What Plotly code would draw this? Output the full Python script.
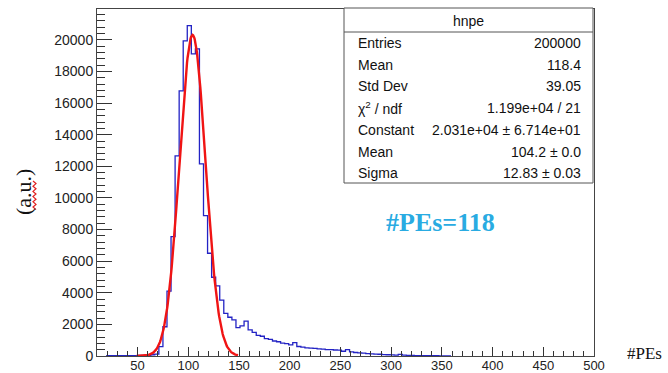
import plotly.graph_objects as go
import numpy as np

# ---------------- data ----------------
bin_width = 4
first_edge = 19
counts = [
    # 19 .. 63
    25, 28, 22, 30, 26, 24, 30, 28, 32, 35, 45,
    # 63 .. 151
    80, 120, 590, 1850, 4110, 7550, 12660, 16770, 19940, 20900, 19110, 19430,
    12150, 8880, 6500, 4980, 4430, 3540, 2700, 2450, 2280, 1790,
    # 151 .. 255
    1900, 2200, 1650, 1500, 1300, 1250, 1100, 1050, 950, 900, 820, 780, 700,
    850, 600, 560, 520, 500, 480, 450, 430, 400, 400, 380, 370, 300,
    # 255 .. 359
    400, 260, 220, 200, 180, 150, 140, 120, 110, 90, 80, 70, 60, 100, 50,
    40, 35, 30, 28, 25, 20, 18, 15, 12, 10, 8,
]
fit_constant = 20310.0
fit_mean = 104.2
fit_sigma = 12.83
fit_range = [49, 149]

stats_labels = ["Entries", "Mean", "Std Dev", "\u03c7<sup>2</sup> / ndf", "Constant", "Mean", "Sigma"]
stats_values = ["200000", "118.4", "39.05", "1.199e+04 / 21",
                "2.031e+04 \u00b1 6.714e+01", "104.2 \u00b1 0.0", "12.83 \u00b1 0.03"]
y_tick_vals = [0, 2000, 4000, 6000, 8000, 10000, 12000, 14000, 16000, 18000, 20000]
x_tick_vals = [50, 100, 150, 200, 250, 300, 350, 400, 450, 500]

# ---------------- geometry ----------------
W, H = 668, 373
L, R, T, B = 97, 594, 9, 356


def px(x):
    return (x - L) / (R - L)


def py(y):
    return (B - y) / (B - T)


edges = [first_edge + bin_width * i for i in range(len(counts) + 1)]
step_y = counts + [counts[-1]]

fx = np.linspace(fit_range[0], fit_range[1], 200)
fy = fit_constant * np.exp(-0.5 * ((fx - fit_mean) / fit_sigma) ** 2)

fig = go.Figure()
fig.add_trace(go.Scatter(x=edges, y=step_y, mode="lines", line_shape="hv",
                         line=dict(color="#2323c4", width=1.3), hoverinfo="skip"))
fig.add_trace(go.Scatter(x=fx, y=fy, mode="lines",
                         line=dict(color="#f01414", width=2.4), hoverinfo="skip"))

yaxis_font = dict(family="Liberation Sans, Arial, Helvetica", size=14, color="#222")
xaxis_font = dict(family="Liberation Sans, Arial, Helvetica", size=13, color="#222")
fig.update_layout(
    width=W, height=H,
    margin=dict(l=L, r=W - R, t=T, b=H - B, pad=0, autoexpand=False),
    paper_bgcolor="white", plot_bgcolor="white",
    showlegend=False,
    xaxis=dict(range=[10, 500], tickvals=x_tick_vals, ticks="inside", ticklen=9,
               tickcolor="#333", tickwidth=1, showgrid=False, zeroline=False,
               showline=True, linecolor="#444", linewidth=1, mirror=True,
               tickfont=xaxis_font, automargin=False, ticklabelstandoff=-3,
               minor=dict(dtick=10, tick0=0, ticks="inside", ticklen=5, tickcolor="#333", showgrid=False)),
    yaxis=dict(range=[0, 21950], tickvals=y_tick_vals, ticks="inside", ticklen=15,
               tickcolor="#333", tickwidth=1, showgrid=False, zeroline=False,
               showline=True, linecolor="#444", linewidth=1, mirror=True,
               tickfont=yaxis_font, tickformat="d", automargin=False,
               minor=dict(dtick=400, tick0=0, ticks="inside", ticklen=8, tickcolor="#333", showgrid=False)),
)

shapes = []
annotations = []

# stats box
bx0, bx1, by0, by1, bsep = 344, 593, 8, 183, 32
shapes.append(dict(type="rect", xref="paper", yref="paper",
                   x0=px(bx0), x1=px(bx1), y0=py(by1), y1=py(by0),
                   line=dict(color="#555", width=1), fillcolor="white", layer="above"))
shapes.append(dict(type="line", xref="paper", yref="paper",
                   x0=px(bx0), x1=px(bx1), y0=py(bsep), y1=py(bsep),
                   line=dict(color="#555", width=1), layer="above"))
stat_font = dict(family="Liberation Sans, Arial, Helvetica", size=14, color="#111")
annotations.append(dict(text="hnpe", xref="paper", yref="paper", x=px((bx0 + bx1) / 2), y=py(21),
                        xanchor="center", yanchor="middle", showarrow=False, font=stat_font))
row_y = [43, 64.5, 86, 108, 130, 151.5, 173]
for lab, val, ry in zip(stats_labels, stats_values, row_y):
    annotations.append(dict(text=lab, xref="paper", yref="paper", x=px(356), y=py(ry),
                            xanchor="left", yanchor="middle", showarrow=False, font=stat_font))
    annotations.append(dict(text=val, xref="paper", yref="paper", x=px(583), y=py(ry),
                            xanchor="right", yanchor="middle", showarrow=False, font=stat_font))

# axis titles
annotations.append(dict(text="(a.u.)", xref="paper", yref="paper", x=px(24), y=py(192),
                        xanchor="center", yanchor="middle", textangle=-90, showarrow=False,
                        font=dict(family="Liberation Serif, Times New Roman", size=22, color="#111")))
annotations.append(dict(text="#PEs", xref="paper", yref="paper", x=px(644), y=py(353),
                        xanchor="center", yanchor="middle", showarrow=False,
                        font=dict(family="Liberation Serif, Times New Roman", size=17, color="#111")))
annotations.append(dict(text="<b>#PEs=118</b>", xref="paper", yref="paper", x=px(440), y=py(222),
                        xanchor="center", yanchor="middle", showarrow=False,
                        font=dict(family="Liberation Serif, Times New Roman", size=26, color="#29abe2")))

# red wavy underline (spell-check mark) next to rotated label
zz = []
yy = 181.0
k = 0
while yy <= 212:
    xx = 33.0 if k % 2 == 0 else 36.0
    zz.append((px(xx), py(yy)))
    yy += 2.6
    k += 1
path = "M " + " L ".join(f"{a:.5f},{b:.5f}" for a, b in zz)
shapes.append(dict(type="path", xref="paper", yref="paper", path=path,
                   line=dict(color="#e02020", width=1.2)))

fig.update_layout(shapes=shapes, annotations=annotations)
fig.write_html("out.html", config={"displayModeBar": False})
